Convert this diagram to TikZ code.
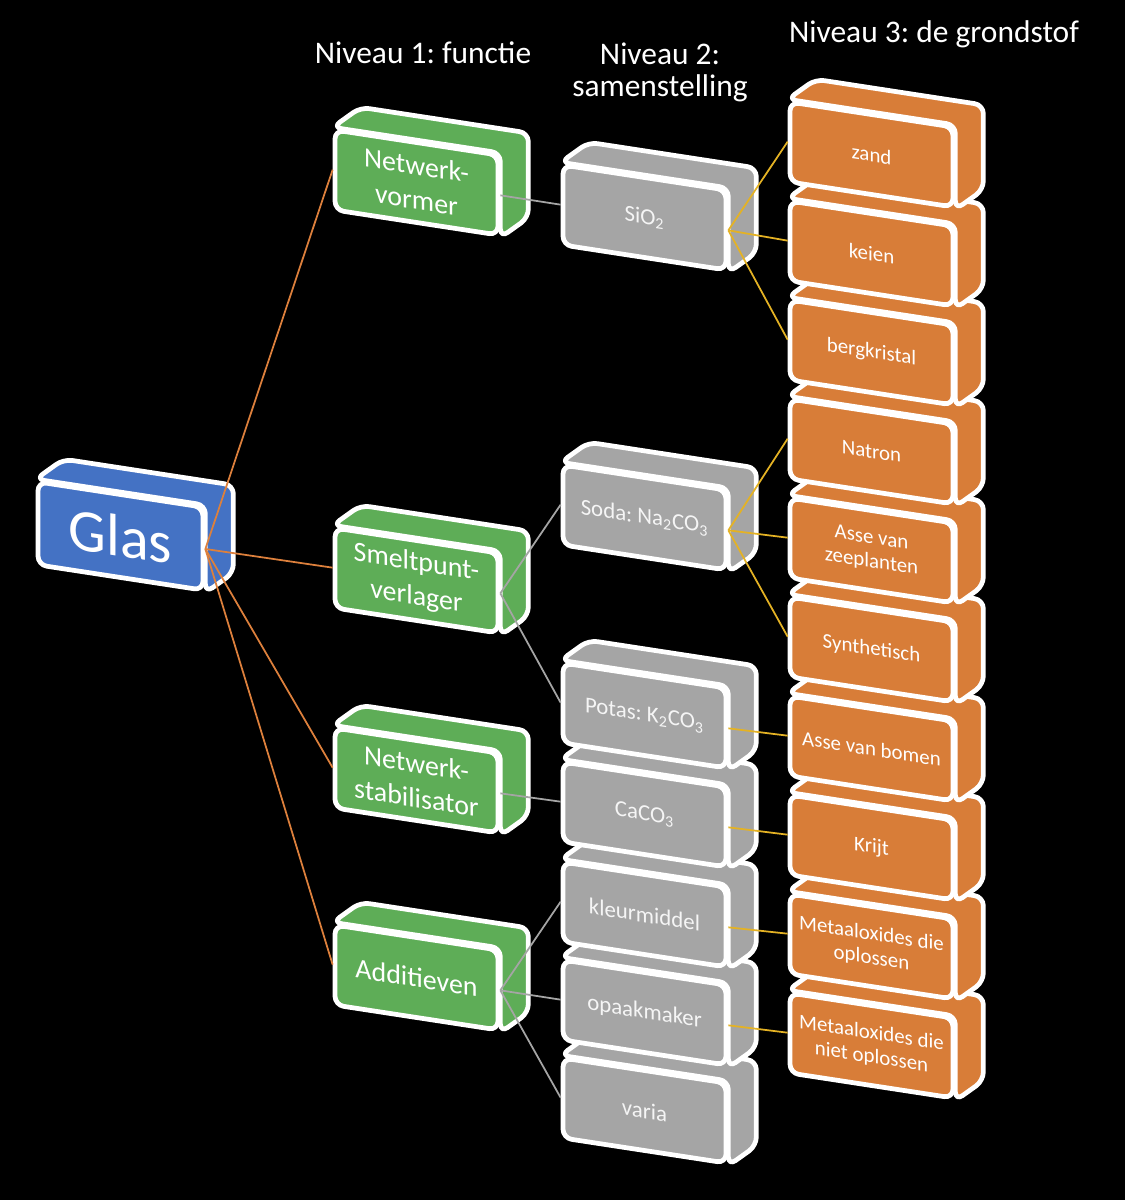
\documentclass[tikz,border=0pt]{standalone}
\usepackage{fontspec}
\setmainfont{Carlito}
\frenchspacing
\usetikzlibrary{backgrounds}
\definecolor{glas}{RGB}{68,114,196}
\definecolor{functie}{RGB}{94,173,87}
\definecolor{samenstelling}{RGB}{165,165,165}
\definecolor{grondstof}{RGB}{216,125,56}
\definecolor{glaslijnkleur}{RGB}{221,128,60}
\definecolor{goudkleur}{RGB}{228,178,36}
\tikzset{
  blok/.style={draw=white, line width=2.7pt, rounded corners=5pt, minimum width=3.26cm,
    minimum height=1.6cm, yslant=-0.153, transform shape, text=white, align=center, inner sep=1pt},
  zijvlak/.style={draw=white, line width=2.7pt, rounded corners=5pt, line join=round},
  glas/.style={blok, fill=glas, minimum width=3.3cm, minimum height=1.66cm, font=\fontsize{34}{36}\selectfont},
  functie/.style={blok, fill=functie, font=\fontsize{15.9}{19.6}\selectfont},
  samenstelling/.style={blok, fill=samenstelling, text=white!96!black, font=\fontsize{13}{15.6}\selectfont},
  grondstof/.style={blok, fill=grondstof, font=\fontsize{11.9}{13.6}\selectfont},
  niveau/.style={text=white, align=center, font=\fontsize{17.9}{18.2}\selectfont},
  glaslijn/.style={draw=glaslijnkleur, line width=1pt},
  grijslijn/.style={draw=samenstelling, line width=1pt},
  goudlijn/.style={draw=goudkleur, line width=1pt},
}
% blok met zij- en bovenvlak: stijl, naam, positie, tekst
\newcommand{\blok}[4]{%
  \node[#1] (#2) at (#3) {#4};
  \begin{pgfonlayer}{background}
    \filldraw[zijvlak, fill=#1] (#2.north west) -- ++(28,-20) -- ([shift={(28,-20)}]#2.north east)
      -- ([shift={(28,-20)}]#2.south east) -- (#2.south east) -- (#2.north east) -- cycle;
  \end{pgfonlayer}}

\begin{document}
\begin{tikzpicture}[x=0.02cm, y=-0.02cm]
  \useasboundingbox (0,0) rectangle (1125,1200);
  \begin{pgfonlayer}{background}
    \fill[black] (0,0) rectangle (1125,1200);
  \end{pgfonlayer}

  % koppen
  \node[niveau, anchor=base] (niv1) at (423,63) {Niveau 1: functie};
  \node[niveau] (niv2) at (660,72) {Niveau 2:\\samenstelling};
  \node[niveau, anchor=base] (niv3) at (934,42) {Niveau 3: de grondstof};

  \blok{glas}{glas}{120.5,536}{Glas}

  % niveau 1
  \blok{functie}{add}{416.5,977.5}{Additieven}
  \blok{functie}{stab}{416.5,780.5}{Netwerk-\\stabilisator}
  \blok{functie}{smelt}{416.5,580.5}{Smeltpunt-\\verlager}
  \blok{functie}{vormer}{416.5,182.5}{Netwerk-\\vormer}

  % niveau 2
  \blok{samenstelling}{varia}{644.5,1110.5}{varia}
  \blok{samenstelling}{opaak}{644.5,1012.5}{opaakmaker}
  \blok{samenstelling}{kleur}{644.5,914.5}{kleurmiddel}
  \blok{samenstelling}{caco}{644.5,814.5}{CaCO\textsubscript{3}}
  \blok{samenstelling}{potas}{644.5,715.5}{Potas: K\textsubscript{2}CO\textsubscript{3}}
  \blok{samenstelling}{soda}{644.5,517.5}{Soda: Na\textsubscript{2}CO\textsubscript{3}}
  \blok{samenstelling}{sio}{644.5,217.5}{SiO\textsubscript{2}}

  % niveau 3
  \blok{grondstof}{nietopl}{871.5,1045.5}{Metaaloxides die\\niet oplossen}
  \blok{grondstof}{opl}{871.5,946.5}{Metaaloxides die\\oplossen}
  \blok{grondstof}{krijt}{871.5,847.5}{Krijt}
  \blok{grondstof}{bomen}{871.5,748.5}{Asse van bomen}
  \blok{grondstof}{synth}{871.5,649.5}{Synthetisch}
  \blok{grondstof}{zee}{871.5,550.5}{Asse van\\zeeplanten}
  \blok{grondstof}{natron}{871.5,451.5}{Natron}
  \blok{grondstof}{berg}{871.5,352.5}{bergkristal}
  \blok{grondstof}{keien}{871.5,253.5}{keien}
  \blok{grondstof}{zand}{871.5,154.5}{zand}

  % verbindingen
  \foreach \naar in {vormer,smelt,stab,add}
    \draw[glaslijn] (glas.east) -- (\naar.west);
  \foreach \van/\naar in {vormer/sio,smelt/soda,smelt/potas,stab/caco,add/kleur,add/opaak,add/varia}
    \draw[grijslijn] (\van.east) -- (\naar.west);
  \foreach \van/\naar in {sio/zand,sio/keien,sio/berg,soda/natron,soda/zee,soda/synth,potas/bomen,caco/krijt,kleur/opl,opaak/nietopl}
    \draw[goudlijn] (\van.east) -- (\naar.west);
\end{tikzpicture}
\end{document}
